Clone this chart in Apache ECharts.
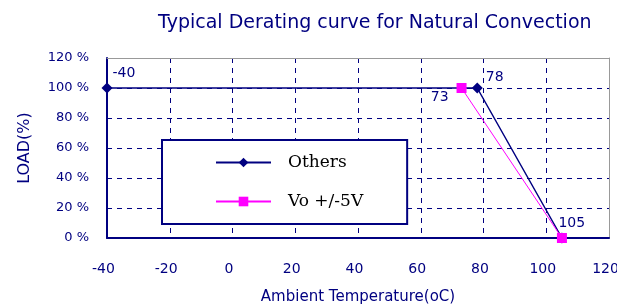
<!DOCTYPE html>
<html>
<head>
<meta charset="utf-8">
<script src="https://cdn.jsdelivr.net/npm/echarts@6/dist/echarts.min.js"></script>
<style>
html, body { margin: 0; padding: 0; background: #fff; }
#chart { width: 617px; height: 304px; }
</style>
</head>
<body>
<div id="chart"></div>
<script>
// 数据
let xTicks = [-40, -20, 0, 20, 40, 60, 80, 100, 120];
let yTicks = [0, 20, 40, 60, 80, 100, 120];
let othersTemp = [-40, 78, 105];
let othersLoad = [100, 100, 0];
let vo5Temp = [73, 105];
let vo5Load = [100, 0];

let navy = '#000080';
let pink = '#FF00FF';
let borderGray = '#999';
let textFont = 'DejaVu Sans, Verdana, sans-serif';

let othersData = othersTemp.map((t, i) => [t, othersLoad[i]]);
let vo5Data = vo5Temp.map((t, i) => [t, vo5Load[i]]);

// 数据标签位置 (position, offset)
let othersLabel = [['right', [-5, -15]], ['right', [-2, -11]], ['right', [-14, -15]]];
let vo5Label = [['left', [-3, 9]], null];

let gridDash = {
    show: true,
    lineStyle: { color: navy, type: [5, 5], width: 1 }
};

// 上/右边框 (灰色实线)
let borderAxis = {
    type: 'value',
    axisLine: { show: true, onZero: false, lineStyle: { color: borderGray, width: 1 } },
    axisTick: { show: false },
    axisLabel: { show: false },
    splitLine: { show: false }
};

let option = {
    animation: false,
    backgroundColor: '#fff',
    title: {
        text: 'Typical Derating curve for Natural Convection',
        left: 153,
        top: 9,
        textStyle: { color: navy, fontSize: 19, fontWeight: 'normal', fontFamily: textFont }
    },
    grid: {
        left: 107,
        right: 8,
        top: 58,
        bottom: 66,
        outerBoundsMode: 'none',
        containLabel: false
    },
    legend: {
        orient: 'vertical',
        left: 162,
        top: 140,
        padding: [14, 44, 14, 53],
        backgroundColor: '#fff',
        borderColor: navy,
        borderWidth: 2,
        itemWidth: 55,
        itemHeight: 12,
        itemGap: 22,
        textStyle: { color: '#000', fontSize: 17, fontFamily: 'DejaVu Serif, Times New Roman, serif', padding: [0, 0, 0, 12] },
        data: ['Others', 'Vo +/-5V']
    },
    xAxis: [
        {
            type: 'value',
            min: xTicks[0],
            max: xTicks[xTicks.length - 1],
            interval: 20,
            name: 'Ambient Temperature(oC)',
            nameLocation: 'middle',
            nameGap: 52,
            nameTextStyle: { color: navy, fontSize: 15, fontFamily: textFont },
            axisLine: { show: true, onZero: false, lineStyle: { color: navy, width: 2 } },
            axisTick: { show: false },
            axisLabel: { color: navy, fontSize: 14, margin: 24, padding: [0, 7, 0, 0], fontFamily: textFont },
            splitLine: gridDash
        },
        Object.assign({ position: 'top', min: xTicks[0], max: xTicks[xTicks.length - 1] }, borderAxis)
    ],
    yAxis: [
        {
            type: 'value',
            min: yTicks[0],
            max: yTicks[yTicks.length - 1],
            interval: 20,
            name: 'LOAD(%)',
            nameLocation: 'middle',
            nameGap: 74,
            nameRotate: 90,
            nameTextStyle: { color: navy, fontSize: 16, fontFamily: textFont },
            axisLine: { show: true, onZero: false, lineStyle: { color: navy, width: 2 } },
            axisTick: { show: false },
            axisLabel: { color: navy, fontSize: 13, margin: 18, fontFamily: textFont, formatter: '{value} %' },
            splitLine: gridDash
        },
        Object.assign({ position: 'right', min: yTicks[0], max: yTicks[yTicks.length - 1] }, borderAxis)
    ],
    series: [
        {
            name: 'Others',
            type: 'line',
            symbol: 'diamond',
            symbolSize: 11,
            z: 3,
            lineStyle: { color: navy, width: 1.5 },
            itemStyle: { color: navy },
            data: othersData.map((d, i) => ({
                value: d,
                label: {
                    show: true,
                    formatter: String(d[0]),
                    position: othersLabel[i][0],
                    offset: othersLabel[i][1],
                    color: navy,
                    fontSize: 14,
                    fontFamily: textFont
                }
            }))
        },
        {
            name: 'Vo +/-5V',
            type: 'line',
            symbol: 'rect',
            symbolSize: 10,
            z: 4,
            lineStyle: { color: pink, width: 1 },
            itemStyle: { color: pink },
            data: vo5Data.map((d, i) => ({
                value: d,
                label: {
                    show: !!vo5Label[i],
                    formatter: String(d[0]),
                    position: vo5Label[i] ? vo5Label[i][0] : 'top',
                    offset: vo5Label[i] ? vo5Label[i][1] : [0, 0],
                    color: navy,
                    fontSize: 14,
                    fontFamily: textFont
                }
            }))
        }
    ]
};

let myChart = echarts.init(document.getElementById('chart'));
myChart.setOption(option, true);
</script>
</body>
</html>
